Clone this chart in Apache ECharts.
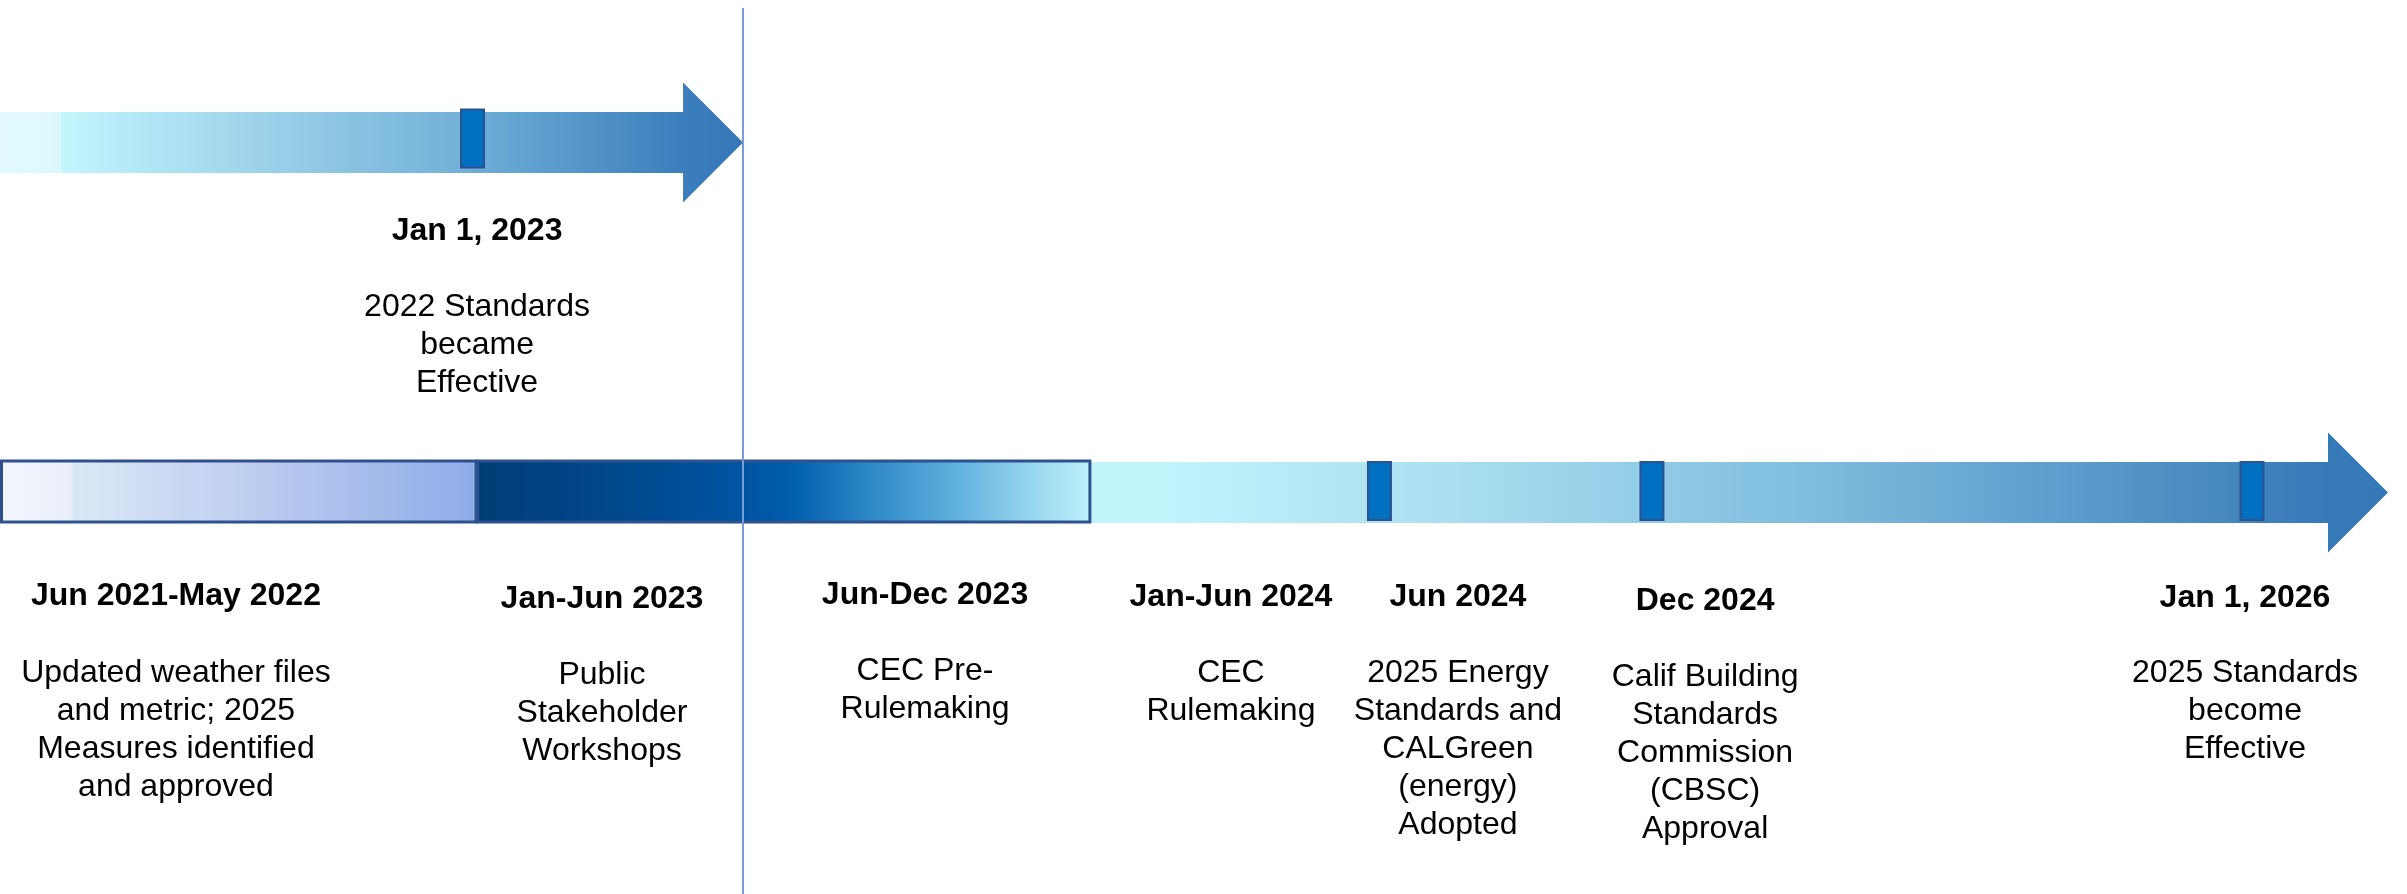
<!DOCTYPE html>
<html><head><meta charset="utf-8">
<script src="https://cdn.jsdelivr.net/npm/echarts@6/dist/echarts.min.js"></script>
<style>html,body{margin:0;padding:0;background:#fff}#c{width:2407px;height:894px}</style>
</head><body><div id="c"></div>
<script>
// ---------- DATA (timeline positions in % of the track width) ----------
const arrowNames = ['2022 Standards cycle', '2025 Standards cycle'];
const arrowRow   = ['top', 'bottom'];
const arrowStart = [0, 45.28];
const arrowEnd   = [30.87, 99.21];

const phaseNames = ['Jun 2021-May 2022', 'Jan-Dec 2023'];
const phaseStart = [0, 19.78];
const phaseEnd   = [19.78, 45.28];

const milestoneRow = ['top', 'bottom', 'bottom', 'bottom'];
const milestonePos = [19.63, 57.31, 68.63, 93.56];

const currentPos = 30.87;

const labelRow = ['top', 'bottom', 'bottom', 'bottom', 'bottom', 'bottom', 'bottom', 'bottom'];
const labelPos = [19.82, 7.31, 25.01, 38.43, 51.14, 60.57, 70.84, 93.27];
const labelTitles = ['Jan 1, 2023', 'Jun 2021-May 2022', 'Jan-Jun 2023', 'Jun-Dec 2023',
  'Jan-Jun 2024', 'Jun 2024', 'Dec 2024', 'Jan 1, 2026'];
const labelTexts = [
  '2022 Standards\nbecame\nEffective',
  'Updated weather files\nand metric; 2025\nMeasures identified\nand approved',
  'Public\nStakeholder\nWorkshops',
  'CEC Pre-\nRulemaking',
  'CEC\nRulemaking',
  '2025 Energy\nStandards and\nCALGreen\n(energy)\nAdopted',
  'Calif Building\nStandards\nCommission\n(CBSC)\nApproval',
  '2025 Standards\nbecome\nEffective'
];

// ---------- STYLE / LAYOUT ----------
const ROW_Y = { top: 142.5, bottom: 492.5 };
const TITLE_DY = { top: 88.5, bottom: 104 };
const DESC_DY = { top: 145.5, bottom: 162 };
const titleNudge = [0, 0, 3, -1, 1, 1, 5, 2];
const descNudge  = [0, 0, 2, -2, 0, 0, 4, 0];
const BODY_H = 61, HEAD_H = 120, HEAD_L = 60;
const FONT = '"Liberation Sans", Arial, Helvetica, sans-serif';
const G = echarts.graphic.LinearGradient;
const arrowFill = [
  new G(0, 0, 1, 0, [
    { offset: 0, color: '#E1F9FC' }, { offset: 0.081, color: '#DDF8FC' },
    { offset: 0.083, color: '#C3F5FD' }, { offset: 0.35, color: '#9DD2EA' },
    { offset: 0.62, color: '#72B1D8' }, { offset: 0.92, color: '#3B7EBC' },
    { offset: 1, color: '#3678B6' }]),
  new G(0, 0, 1, 0, [
    { offset: 0, color: '#C2F4FC' }, { offset: 0.05, color: '#C2F4FC' },
    { offset: 0.3, color: '#A6DCEF' }, { offset: 0.55, color: '#80BDDE' },
    { offset: 0.8, color: '#5495C8' }, { offset: 0.954, color: '#3579B7' },
    { offset: 1, color: '#3478B5' }])
];
const phaseFill = [
  new G(0, 0, 1, 0, [
    { offset: 0, color: '#F3F6FC' }, { offset: 0.15, color: '#E9EEF9' },
    { offset: 0.152, color: '#DAE8F6' }, { offset: 0.45, color: '#C4D3F1' },
    { offset: 0.75, color: '#A8BDEC' }, { offset: 1, color: '#8DACE8' }]),
  new G(0, 0, 1, 0, [
    { offset: 0, color: '#003D76' }, { offset: 0.2, color: '#00468A' },
    { offset: 0.45, color: '#0056A4' }, { offset: 0.51, color: '#005DAC' },
    { offset: 0.63, color: '#2A85C5' }, { offset: 0.78, color: '#5FB0DE' },
    { offset: 0.89, color: '#92D2ED' }, { offset: 1, color: '#BDF2FB' }])
];

const chart = echarts.init(document.getElementById('c'), null, { renderer: 'canvas' });

function xOf(api, v) { return api.coord([v, 0])[0]; }
function yOf(api, v) { return api.coord([0, v])[1]; }

chart.setOption({
  animation: false,
  backgroundColor: '#ffffff',
  grid: { left: 0, right: 0, top: 0, bottom: 0 },
  xAxis: { type: 'value', min: 0, max: 100, show: false },
  yAxis: { type: 'value', min: 0, max: 894, inverse: true, show: false },
  series: [
    { // arrows
      type: 'custom', name: 'arrows', z: 1, clip: false,
      data: arrowNames.map((n, i) => ({ name: n, value: [arrowStart[i], arrowEnd[i]] })),
      renderItem: (params, api) => {
        const i = params.dataIndex;
        const x0 = xOf(api, api.value(0)), xt = xOf(api, api.value(1));
        const xh = xt - HEAD_L, yc = yOf(api, ROW_Y[arrowRow[i]]);
        return { type: 'polygon', shape: { points: [
          [x0, yc - BODY_H / 2], [xh, yc - BODY_H / 2], [xh, yc - HEAD_H / 2], [xt, yc],
          [xh, yc + HEAD_H / 2], [xh, yc + BODY_H / 2], [x0, yc + BODY_H / 2]] },
          style: { fill: arrowFill[i], stroke: null } };
      }
    },
    { // phase boxes
      type: 'custom', name: 'phases', z: 2, clip: false,
      data: phaseNames.map((n, i) => ({ name: n, value: [phaseStart[i], phaseEnd[i]] })),
      renderItem: (params, api) => {
        const i = params.dataIndex;
        const x0 = xOf(api, api.value(0)), x1 = xOf(api, api.value(1));
        const yc = yOf(api, ROW_Y.bottom) - 1;
        return { type: 'rect', shape: { x: x0 + 1.5, y: yc - BODY_H / 2, width: x1 - x0 - 1.5, height: BODY_H },
          style: { fill: phaseFill[i], stroke: '#2F528F', lineWidth: 3 } };
      }
    },
    { // milestone markers
      type: 'custom', name: 'milestones', z: 3, clip: false,
      data: milestonePos.map(v => [v]),
      renderItem: (params, api) => {
        const i = params.dataIndex;
        const x = xOf(api, api.value(0));
        const row = milestoneRow[i];
        const yc = yOf(api, ROW_Y[row]) + (row === 'top' ? -4 : -1.5);
        return { type: 'rect', shape: { x: x - 11.5, y: yc - 29, width: 23, height: 58 },
          style: { fill: '#0070C0', stroke: '#2F528F', lineWidth: 2 } };
      }
    },
    { // current date line
      type: 'custom', name: 'current', z: 4, clip: false,
      data: [[currentPos]],
      renderItem: (params, api) => {
        const x = Math.round(xOf(api, api.value(0)));
        return { type: 'line', shape: { x1: x, y1: yOf(api, 8), x2: x, y2: yOf(api, 894) },
          style: { stroke: '#7B9CDB', lineWidth: 2 } };
      }
    },
    { // labels
      type: 'custom', name: 'labels', z: 5, clip: false,
      data: labelPos.map(v => [v]),
      renderItem: (params, api) => {
        const i = params.dataIndex;
        const x = xOf(api, api.value(0));
        const row = labelRow[i];
        const yc = yOf(api, ROW_Y[row]);
        return { type: 'group', children: [
          { type: 'text', x: x, y: yc + TITLE_DY[row] + titleNudge[i],
            style: { text: labelTitles[i], fill: '#000', fontSize: 32, fontWeight: 'bold', fontFamily: FONT,
              align: 'center', verticalAlign: 'middle', textAlign: 'center', textVerticalAlign: 'middle', lineHeight: 38 } },
          { type: 'text', x: x, y: yc + DESC_DY[row] + descNudge[i],
            style: { text: labelTexts[i], fill: '#000', fontSize: 32, fontWeight: 'normal', fontFamily: FONT,
              align: 'center', verticalAlign: 'top', textAlign: 'center', textVerticalAlign: 'top', lineHeight: 38 } }
        ] };
      }
    }
  ]
});
</script></body></html>
